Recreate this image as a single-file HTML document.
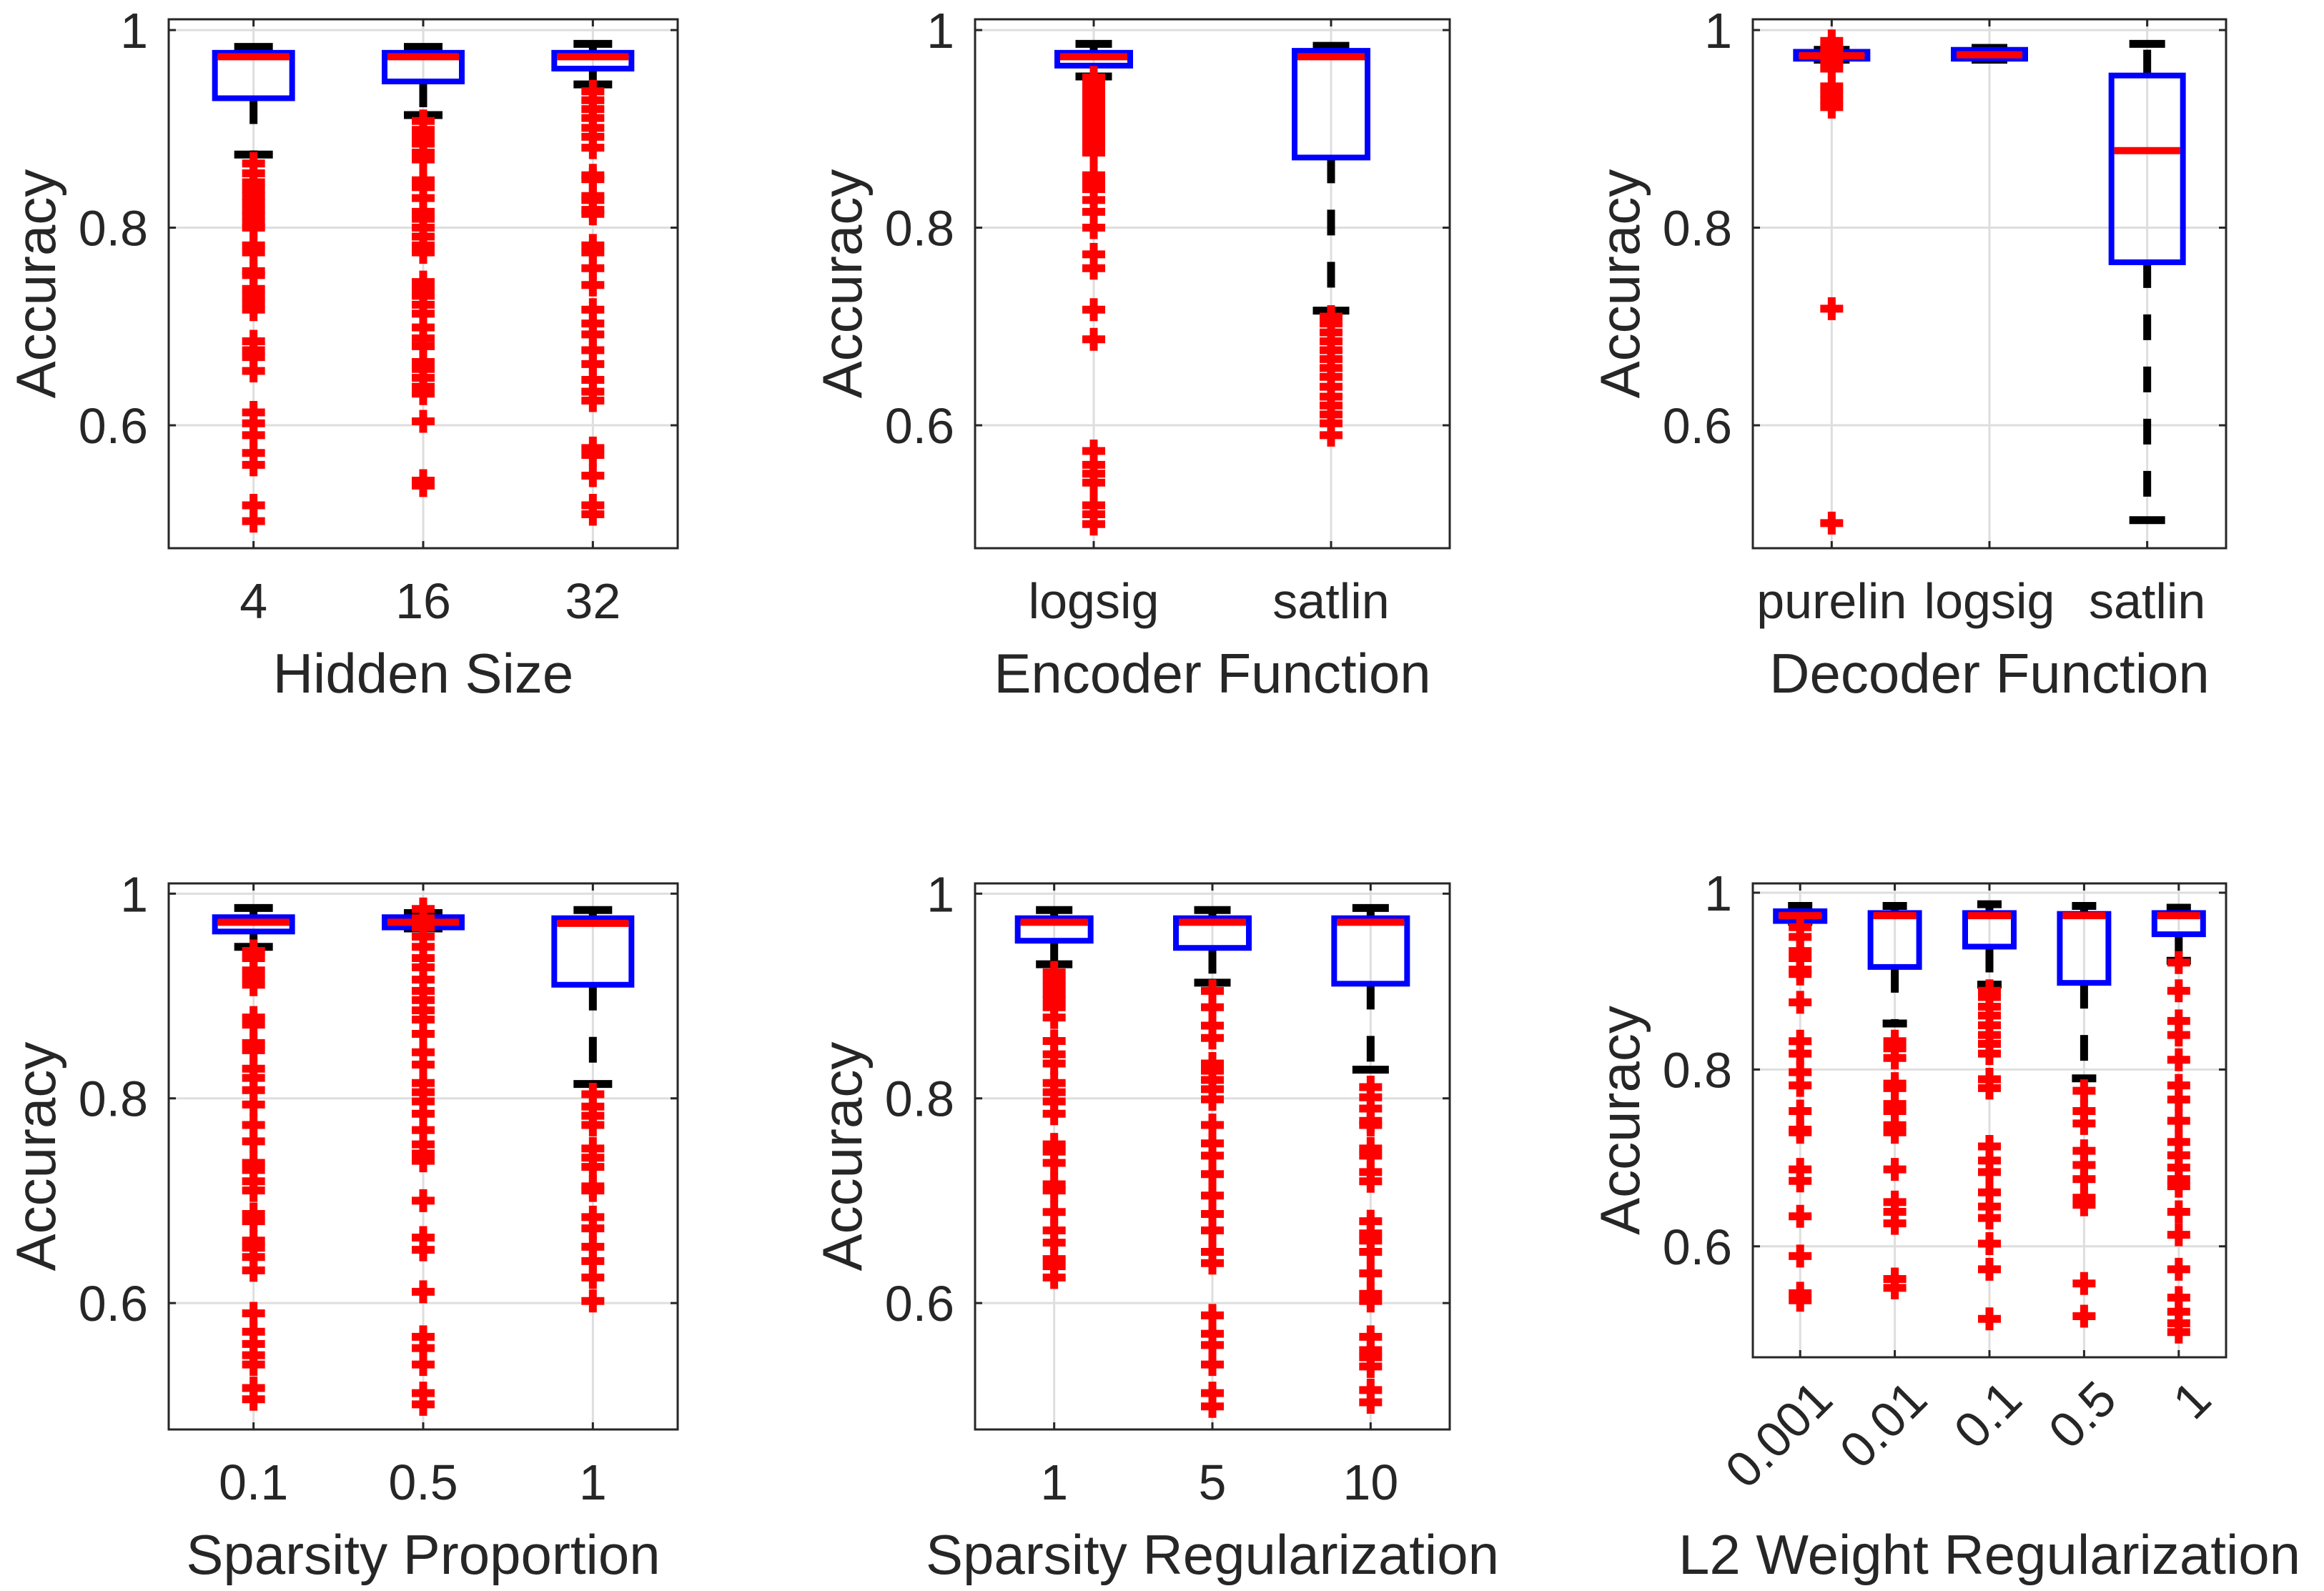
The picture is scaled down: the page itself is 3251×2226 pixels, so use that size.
<!DOCTYPE html>
<html><head><meta charset="utf-8"><style>
html,body{margin:0;padding:0;background:#fff;}
svg{display:block;}
text{font-family:"Liberation Sans",Arial,sans-serif;fill:#262626;}
</style></head><body>
<svg id="fig" width="3251" height="2226" viewBox="0 0 3251 2226" xmlns="http://www.w3.org/2000/svg"></svg>
<script>
// ---- data ----
const p1Cats=["4","16","32"];
const p1Hi=[0.983,0.983,0.986];
const p1Q3=[0.977,0.977,0.977];
const p1Med=[0.973,0.973,0.973];
const p1Q1=[0.931,0.948,0.961];
const p1Lo=[0.874,0.914,0.945];
const p1Out=[
[0.865,0.855,0.846,0.839,0.832,0.825,0.818,0.812,0.805,0.800,0.782,0.775,0.756,0.752,0.738,0.731,0.724,0.717,0.685,0.676,0.669,0.655,0.613,0.602,0.590,0.572,0.560,0.519,0.503],
[0.908,0.899,0.892,0.885,0.876,0.869,0.848,0.841,0.830,0.816,0.809,0.800,0.791,0.782,0.775,0.745,0.738,0.731,0.722,0.713,0.699,0.688,0.680,0.664,0.657,0.648,0.639,0.632,0.604,0.544,0.539],
[0.938,0.929,0.920,0.911,0.901,0.892,0.881,0.853,0.849,0.832,0.828,0.818,0.814,0.782,0.775,0.759,0.742,0.717,0.703,0.692,0.676,0.662,0.646,0.634,0.625,0.577,0.570,0.549,0.519,0.510]];

const p2Cats=["logsig","satlin"];
const p2Hi=[0.986,0.984];
const p2Q3=[0.977,0.979];
const p2Med=[0.973,0.973];
const p2Q1=[0.964,0.871];
const p2Lo=[0.953,0.716];
const p2Out=[
[0.952,0.945,0.938,0.931,0.924,0.917,0.911,0.904,0.897,0.890,0.883,0.876,0.853,0.846,0.839,0.828,0.816,0.800,0.773,0.759,0.717,0.687,0.574,0.560,0.551,0.542,0.519,0.510,0.500],
[0.710,0.703,0.694,0.685,0.676,0.667,0.658,0.649,0.639,0.629,0.620,0.611,0.602,0.590]];

const p3Cats=["purelin","logsig","satlin"];
const p3Hi=[0.980,0.982,0.986];
const p3Q3=[0.978,0.980,0.954];
const p3Med=[0.974,0.975,0.878];
const p3Q1=[0.971,0.971,0.765];
const p3Lo=[0.970,0.970,0.504];
const p3Out=[
[0.989,0.982,0.975,0.968,0.961,0.943,0.936,0.929,0.922,0.718,0.501],
[],
[]];

const p4Cats=["0.1","0.5","1"];
const p4Hi=[0.986,0.981,0.984];
const p4Q3=[0.977,0.977,0.976];
const p4Med=[0.972,0.972,0.971];
const p4Q1=[0.963,0.967,0.911];
const p4Lo=[0.948,0.966,0.814];
const p4Out=[
[0.944,0.937,0.925,0.918,0.911,0.879,0.872,0.854,0.847,0.829,0.820,0.808,0.794,0.774,0.758,0.737,0.730,0.719,0.710,0.687,0.680,0.661,0.654,0.645,0.632,0.590,0.572,0.560,0.549,0.540,0.517,0.506],
[0.985,0.976,0.967,0.958,0.948,0.937,0.928,0.916,0.905,0.896,0.886,0.877,0.863,0.845,0.833,0.815,0.806,0.797,0.785,0.769,0.755,0.746,0.739,0.700,0.664,0.652,0.611,0.567,0.556,0.540,0.512,0.501],
[0.804,0.792,0.783,0.774,0.751,0.742,0.733,0.714,0.710,0.684,0.673,0.655,0.641,0.625,0.602]];

const p5Cats=["1","5","10"];
const p5Hi=[0.984,0.984,0.986];
const p5Q3=[0.976,0.976,0.976];
const p5Med=[0.972,0.972,0.972];
const p5Q1=[0.954,0.947,0.912];
const p5Lo=[0.931,0.913,0.828];
const p5Out=[
[0.923,0.916,0.909,0.902,0.896,0.889,0.879,0.856,0.843,0.834,0.815,0.806,0.797,0.785,0.755,0.748,0.737,0.716,0.710,0.689,0.671,0.659,0.643,0.636,0.625],
[0.905,0.889,0.871,0.859,0.834,0.827,0.818,0.809,0.799,0.774,0.756,0.744,0.726,0.705,0.687,0.671,0.650,0.639,0.588,0.570,0.559,0.540,0.512,0.499],
[0.811,0.801,0.790,0.778,0.774,0.751,0.744,0.728,0.719,0.680,0.668,0.661,0.650,0.629,0.609,0.602,0.567,0.554,0.547,0.538,0.515,0.503]];

const p6Cats=["0.001","0.01","0.1","0.5","1"];
const p6Hi=[0.985,0.985,0.987,0.985,0.983];
const p6Q3=[0.979,0.977,0.977,0.976,0.977];
const p6Med=[0.974,0.974,0.974,0.974,0.974];
const p6Q1=[0.968,0.916,0.939,0.898,0.953];
const p6Lo=[0.967,0.852,0.896,0.790,0.923];
const p6Out=[
[0.961,0.950,0.934,0.926,0.913,0.908,0.876,0.832,0.818,0.797,0.782,0.753,0.732,0.729,0.687,0.674,0.634,0.589,0.547,0.539],
[0.832,0.824,0.813,0.784,0.779,0.761,0.753,0.737,0.729,0.687,0.650,0.639,0.626,0.563,0.553],
[0.889,0.882,0.871,0.861,0.850,0.839,0.829,0.818,0.789,0.779,0.713,0.697,0.684,0.661,0.645,0.632,0.603,0.574,0.518],
[0.776,0.753,0.739,0.708,0.692,0.676,0.655,0.647,0.558,0.521],
[0.921,0.889,0.855,0.839,0.811,0.782,0.766,0.742,0.718,0.703,0.689,0.676,0.668,0.639,0.613,0.574,0.542,0.526,0.513,0.503]];

const yTickVals=[0.6,0.8,1];
const yTickLabels=["0.6","0.8","1"];
const xTitles=["Hidden Size","Encoder Function","Decoder Function","Sparsity Proportion","Sparsity Regularization","L2 Weight Regularization"];

// ---- layout (style) ----
const panels=[
 {cats:p1Cats,hi:p1Hi,q3:p1Q3,med:p1Med,q1:p1Q1,lo:p1Lo,out:p1Out,L:236,R:948,T:27,B:767,ymin:0.4756,ymax:1.0109,bw:108,name:"hidden-size"},
 {cats:p2Cats,hi:p2Hi,q3:p2Q3,med:p2Med,q1:p2Q1,lo:p2Lo,out:p2Out,L:1364,R:2028,T:27,B:767,ymin:0.4756,ymax:1.0109,bw:102,name:"encoder-function"},
 {cats:p3Cats,hi:p3Hi,q3:p3Q3,med:p3Med,q1:p3Q1,lo:p3Lo,out:p3Out,L:2452,R:3114,T:27,B:767,ymin:0.4756,ymax:1.0109,bw:100,name:"decoder-function"},
 {cats:p4Cats,hi:p4Hi,q3:p4Q3,med:p4Med,q1:p4Q1,lo:p4Lo,out:p4Out,L:236,R:948,T:1236,B:2000,ymin:0.4765,ymax:1.0100,bw:108,name:"sparsity-proportion"},
 {cats:p5Cats,hi:p5Hi,q3:p5Q3,med:p5Med,q1:p5Q1,lo:p5Lo,out:p5Out,L:1364,R:2028,T:1236,B:2000,ymin:0.4765,ymax:1.0100,bw:102,name:"sparsity-regularization"},
 {cats:p6Cats,hi:p6Hi,q3:p6Q3,med:p6Med,q1:p6Q1,lo:p6Lo,out:p6Out,L:2452,R:3114,T:1236,B:1899,ymin:0.4745,ymax:1.0105,bw:68,rot:true,name:"l2-weight-regularization"}
];

const NS="http://www.w3.org/2000/svg";
const svg=document.getElementById('fig');
function mk(tag,attrs,parent){const e=document.createElementNS(NS,tag);for(const k in attrs)e.setAttribute(k,attrs[k]);(parent||svg).appendChild(e);return e;}

panels.forEach((p,pi)=>{
 const g=mk('g',{});
 
 
 const n=p.cats.length;
 const xs=i=>p.L+(i+0.5)*(p.R-p.L)/n;
 const ys=v=>p.B-(v-p.ymin)/(p.ymax-p.ymin)*(p.B-p.T);
 p.cats.forEach((c,i)=>{const l=mk('line',{x1:xs(i),x2:xs(i),y1:p.T,y2:p.B,stroke:'#dedede','stroke-width':3},g);
  
  });
 yTickVals.forEach(v=>{const l=mk('line',{x1:p.L,x2:p.R,y1:ys(v),y2:ys(v),stroke:'#dedede','stroke-width':3},g);
  
  });
 p.cats.forEach((c,i)=>{
  const x=xs(i),hw=p.bw/2,cw=p.bw/4;
  const bg=mk('g',{},g);
  
  
  const w1=mk('line',{x1:x,x2:x,y1:ys(p.q3[i]),y2:ys(p.hi[i]),stroke:'#000','stroke-width':11,'stroke-dasharray':'36 37'},bg);
  
  
  const w2=mk('line',{x1:x,x2:x,y1:ys(p.q1[i]),y2:ys(p.lo[i]),stroke:'#000','stroke-width':11,'stroke-dasharray':'36 37'},bg);
  
  
  const c1=mk('line',{x1:x-cw,x2:x+cw,y1:ys(p.hi[i]),y2:ys(p.hi[i]),stroke:'#000','stroke-width':11},bg);
  
  
  const c2=mk('line',{x1:x-cw,x2:x+cw,y1:ys(p.lo[i]),y2:ys(p.lo[i]),stroke:'#000','stroke-width':11},bg);
  
  
  const r=mk('rect',{x:x-hw,y:ys(p.q3[i]),width:p.bw,height:Math.max(0.5,ys(p.q1[i])-ys(p.q3[i])),fill:'none',stroke:'#0000ff','stroke-width':8},bg);
  
  
  const m=mk('line',{x1:x-hw+4,x2:x+hw-4,y1:ys(p.med[i]),y2:ys(p.med[i]),stroke:'#ff0000','stroke-width':10},bg);
  
  
  p.out[i].forEach(v=>{
   const y=ys(v);
   const o=mk('path',{d:`M${x-16},${y}H${x+16}M${x},${y-16}V${y+16}`,stroke:'#ff0000','stroke-width':11,fill:'none'},bg);
   
   
  });
 });
 const ax=mk('rect',{x:p.L,y:p.T,width:p.R-p.L,height:p.B-p.T,fill:'none',stroke:'#262626','stroke-width':3},g);
 
 
 p.cats.forEach((c,i)=>{
  mk('line',{x1:xs(i),x2:xs(i),y1:p.B,y2:p.B-10,stroke:'#262626','stroke-width':3},g);
  mk('line',{x1:xs(i),x2:xs(i),y1:p.T,y2:p.T+10,stroke:'#262626','stroke-width':3},g);
  let t;
  if(p.rot){
   const axp=xs(i)+32, ayp=p.B+46;
   t=mk('text',{x:axp,y:ayp,'font-size':70,'text-anchor':'end','dominant-baseline':'central',transform:`rotate(-45 ${axp} ${ayp})`},g);
  } else {
   t=mk('text',{x:xs(i),y:p.B+98,'font-size':70,'text-anchor':'middle'},g);
  }
  t.textContent=c;
  
  
 });
 yTickVals.forEach((v,k)=>{
  mk('line',{x1:p.L,x2:p.L+10,y1:ys(v),y2:ys(v),stroke:'#262626','stroke-width':3},g);
  mk('line',{x1:p.R,x2:p.R-10,y1:ys(v),y2:ys(v),stroke:'#262626','stroke-width':3},g);
  const t=mk('text',{x:p.L-29,y:ys(v)+25,'font-size':70,'text-anchor':'end'},g);
  t.textContent=yTickLabels[k];
  
  
 });
 const xl=mk('text',{x:(p.L+p.R)/2,y:(p.T<600?767:2000)+202,'font-size':78,'text-anchor':'middle'},g);
 xl.textContent=xTitles[pi];
 
 
 const yx=p.L-159, yy=(p.T+p.B)/2;
 const yl=mk('text',{x:yx,y:yy,'font-size':78,'text-anchor':'middle',transform:`rotate(-90 ${yx} ${yy})`},g);
 yl.textContent='Accuracy';
 
 
});
</script>
</body></html>
